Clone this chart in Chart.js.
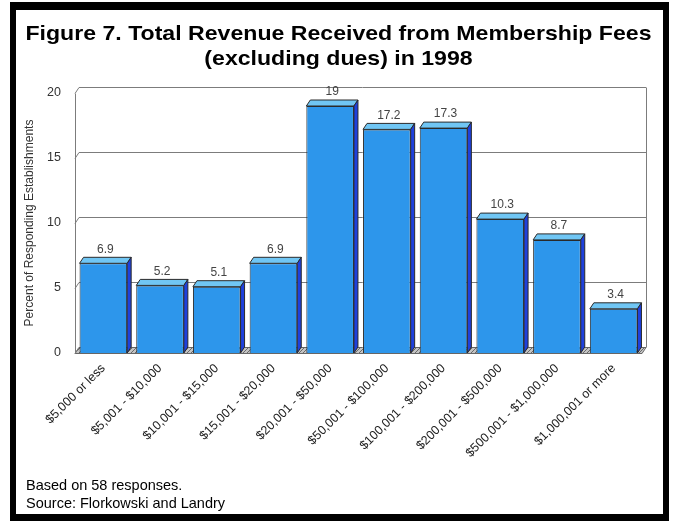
<!DOCTYPE html>
<html>
<head>
<meta charset="utf-8">
<script src="https://cdn.jsdelivr.net/npm/chart.js@4.4.1/dist/chart.umd.min.js"></script>
<style>
  html, body { margin: 0; padding: 0; background: #fff; }
  #wrap { position: relative; width: 673px; height: 521px; overflow: hidden; background: #fff; }
  #c { position: absolute; left: 0; top: 0; }
  .title { position: absolute; left: 2px; top: 20px; width: 673px; text-align: center;
           font-family: "Liberation Sans", Arial, sans-serif; font-weight: bold; font-size: 21px;
           line-height: 25px; color: #000; transform: scaleX(1.1); transform-origin: 50% 0; white-space: nowrap; }
  .frame { position: absolute; left: 10px; top: 2px; width: 659px; height: 519px; box-sizing: border-box;
           border-style: solid; border-color: #000; border-width: 8px 6px 7px 6px; pointer-events: none; }
  .note { position: absolute; left: 26px; top: 476px; font-family: "Liberation Sans", Arial, sans-serif;
          font-size: 14.5px; line-height: 18px; color: #000; }
</style>
</head>
<body>
<div id="wrap">
  <canvas id="c" width="673" height="521"></canvas>
  <div class="title">Figure 7. Total Revenue Received from Membership Fees<br>(excluding dues) in 1998</div>
  <div class="note">Based on 58 responses.<br>Source: Florkowski and Landry</div>
  <div class="frame"></div>
</div>
<script>
// Revenue brackets (categories) and the share of establishments in each
const categories = [
  "$5,000 or less", "$5,001 - $10,000", "$10,001 - $15,000", "$15,001 - $20,000",
  "$20,001 - $50,000", "$50,001 - $100,000", "$100,001 - $200,000",
  "$200,001 - $500,000", "$500,001 - $1,000,000", "$1,000,001 or more"
];
const percentValues = [6.9, 5.2, 5.1, 6.9, 19, 17.2, 17.3, 10.3, 8.7, 3.4];
const yTicks = [0, 5, 10, 15, 20];

const FONT = '"Liberation Sans", Arial, sans-serif';
const DX = 4, DY = -6;           // depth of the 3D extrusion
const FRONT = '#2d96eb', TOP = '#70c6f4', SIDE = '#1e40dc', EDGE = '#2a2a2a';

// diagonal hatch for the floor strip
function makeHatch(ctx) {
  const p = document.createElement('canvas');
  p.width = 4; p.height = 4;
  const g = p.getContext('2d');
  g.fillStyle = '#c4c4c4'; g.fillRect(0, 0, 4, 4);
  g.strokeStyle = '#6a6a6a'; g.lineWidth = 1;
  g.beginPath(); g.moveTo(0, 4); g.lineTo(4, 0); g.stroke();
  return ctx.createPattern(p, 'repeat');
}

const depthPlugin = {
  id: 'depth3d',
  beforeDatasetsDraw(chart) {
    const { ctx, chartArea: a, scales: { y } } = chart;
    ctx.save();
    ctx.lineWidth = 1;
    const y0 = Math.round(y.getPixelForValue(0)) + 0.5;
    // floor
    ctx.beginPath();
    ctx.moveTo(a.left, y0); ctx.lineTo(a.right, y0);
    ctx.lineTo(a.right + DX, y0 + DY); ctx.lineTo(a.left + DX, y0 + DY);
    ctx.closePath();
    ctx.fillStyle = makeHatch(ctx); ctx.fill();
    ctx.strokeStyle = '#666'; ctx.stroke();
    // back-wall grid lines with slanted joins to the left edge
    ctx.strokeStyle = '#7c7c7c';
    yTicks.forEach(v => {
      const yy = Math.round(y.getPixelForValue(v)) + 0.5;
      ctx.beginPath();
      ctx.moveTo(a.left, yy); ctx.lineTo(a.left + DX, yy + DY);
      if (v > 0) ctx.lineTo(a.right + DX, yy + DY);
      ctx.stroke();
    });
    const yTop = Math.round(y.getPixelForValue(20)) + 0.5;
    ctx.beginPath();
    ctx.moveTo(Math.round(a.left) + 0.5, yTop); ctx.lineTo(Math.round(a.left) + 0.5, y0);
    ctx.moveTo(Math.round(a.right + DX) + 0.5, yTop + DY); ctx.lineTo(Math.round(a.right + DX) + 0.5, y0 + DY);
    ctx.stroke();
    ctx.restore();
  },
  afterDatasetsDraw(chart) {
    const { ctx } = chart;
    const meta = chart.getDatasetMeta(0);
    ctx.save();
    ctx.lineWidth = 1;
    ctx.strokeStyle = EDGE;
    meta.data.forEach((bar, i) => {
      const { x, y: top, base, width } = bar.getProps(['x', 'y', 'base', 'width'], true);
      const l = x - width / 2, r = x + width / 2;
      // top face
      ctx.beginPath();
      ctx.moveTo(l, top); ctx.lineTo(l + DX, top + DY); ctx.lineTo(r + DX, top + DY); ctx.lineTo(r, top);
      ctx.closePath();
      ctx.fillStyle = TOP; ctx.fill(); ctx.stroke();
      // side face
      ctx.beginPath();
      ctx.moveTo(r, top); ctx.lineTo(r + DX, top + DY); ctx.lineTo(r + DX, base + DY); ctx.lineTo(r, base);
      ctx.closePath();
      ctx.fillStyle = SIDE; ctx.fill(); ctx.stroke();
      // value label
      ctx.fillStyle = '#444';
      ctx.font = '12px ' + FONT;
      ctx.textAlign = 'center';
      ctx.textBaseline = 'middle';
      ctx.fillText(String(percentValues[i]), x + DX / 2, top - 14);
    });
    ctx.restore();
  }
};

new Chart(document.getElementById('c'), {
  type: 'bar',
  data: {
    labels: categories,
    datasets: [{
      data: percentValues,
      backgroundColor: FRONT,
      borderColor: EDGE,
      borderWidth: 1,
      barPercentage: 0.84,
      categoryPercentage: 1
    }]
  },
  options: {
    responsive: false,
    animation: false,
    events: [],
    layout: { padding: { left: 0, right: 31, top: 93, bottom: 0 } },
    plugins: {
      legend: { display: false },
      tooltip: { enabled: false },
      title: { display: false }
    },
    scales: {
      x: {
        grid: { display: false, drawTicks: false },
        border: { display: false },
        ticks: {
          autoSkip: false, maxRotation: 45, minRotation: 45,
          color: '#222', padding: 8,
          font: { family: FONT, size: 12.5 }
        },
        afterFit(s) { s.height = 168; }
      },
      y: {
        min: 0, max: 20,
        grid: { display: false, drawTicks: false },
        border: { display: false },
        ticks: {
          stepSize: 5, color: '#333', padding: 14,
          font: { family: FONT, size: 12.5 }
        },
        title: {
          display: true,
          text: 'Percent of Responding Establishments',
          color: '#333',
          font: { family: FONT, size: 12 },
          padding: { top: 22, bottom: 0 }
        },
        afterFit(s) { s.width = 75; }
      }
    }
  },
  plugins: [depthPlugin]
});
</script>
</body>
</html>
